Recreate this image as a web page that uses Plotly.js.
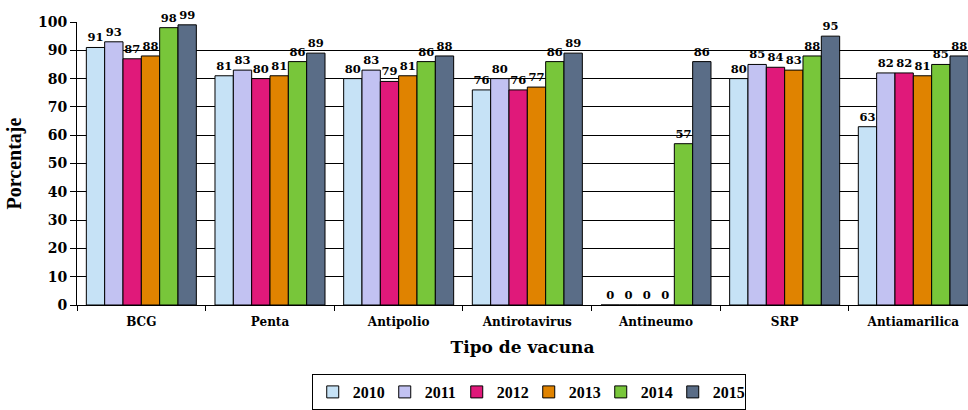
<!DOCTYPE html>
<html>
<head>
<meta charset="utf-8">
<script src="https://cdn.plot.ly/plotly-3.0.1.min.js"></script>
<style>html,body{margin:0;padding:0;background:#fff;}#chart{width:968px;height:410px;}</style>
</head>
<body>
<div id="chart"></div>
<script>
const categories = ["BCG", "Penta", "Antipolio", "Antirotavirus", "Antineumo", "SRP", "Antiamarilica"];
const years = ["2010", "2011", "2012", "2013", "2014", "2015"];
const v2010 = [91, 81, 80, 76, 0, 80, 63];
const v2011 = [93, 83, 83, 80, 0, 85, 82];
const v2012 = [87, 80, 79, 76, 0, 84, 82];
const v2013 = [88, 81, 81, 77, 0, 83, 81];
const v2014 = [98, 86, 86, 86, 57, 88, 85];
const v2015 = [99, 89, 88, 89, 86, 95, 88];
const seriesValues = [v2010, v2011, v2012, v2013, v2014, v2015];
const colors = ["#C6E2F6", "#C2C2F2", "#E0197A", "#E08300", "#78C63A", "#5A6D87"];

const serif = "'Liberation Serif', 'Times New Roman', serif";
const wide = "'DejaVu Serif', serif";

const traces = years.map((y, i) => ({
  type: "bar",
  name: y,
  x: categories,
  y: seriesValues[i],
  text: seriesValues[i].map(String),
  textposition: "outside",
  constraintext: "none",
  cliponaxis: false,
  textfont: {family: wide, size: 11.5, color: "#000", weight: "bold"},
  marker: {color: colors[i], line: {color: "#000", width: 1}},
  hoverinfo: "none"
}));

const layout = {
  width: 968,
  height: 410,
  margin: {l: 77, r: 0, t: 22, b: 104},
  paper_bgcolor: "#fff",
  plot_bgcolor: "#fff",
  barmode: "group",
  bargap: 0.145,
  bargroupgap: 0,
  showlegend: true,
  font: {family: wide, color: "#000"},
  xaxis: {
    range: [-0.5, 6.425],
    showline: true,
    linecolor: "#000",
    linewidth: 1,
    ticks: "outside",
    tickson: "boundaries",
    ticklen: 5,
    tickcolor: "#000",
    ticklabelstandoff: 6,
    showgrid: false,
    tickfont: {family: wide, size: 12, weight: "bold", color: "#000"},
    title: {text: "Tipo de vacuna", font: {family: wide, size: 17, weight: "bold", color: "#000"}, standoff: 12},
    fixedrange: true
  },
  yaxis: {
    range: [0, 100],
    dtick: 10,
    showline: true,
    linecolor: "#000",
    linewidth: 1,
    ticks: "outside",
    ticklen: 6,
    tickcolor: "#000",
    showgrid: true,
    gridcolor: "#000",
    gridwidth: 1,
    zeroline: false,
    tickfont: {family: wide, size: 14, weight: "bold", color: "#000"},
    title: {text: "Porcentaje", font: {family: serif, size: 20, weight: "bold", color: "#000"}, standoff: 10},
    fixedrange: true
  },
  legend: {
    orientation: "h",
    x: 0.507,
    xref: "paper",
    xanchor: "center",
    y: -0.245,
    yanchor: "top",
    bordercolor: "#000",
    borderwidth: 1,
    entrywidth: 27,
    font: {family: serif, size: 16, weight: "bold", color: "#000"},
    tracegroupgap: 0
  }
};

Plotly.newPlot("chart", traces, layout, {displayModeBar: false, staticPlot: true});
</script>
</body>
</html>
